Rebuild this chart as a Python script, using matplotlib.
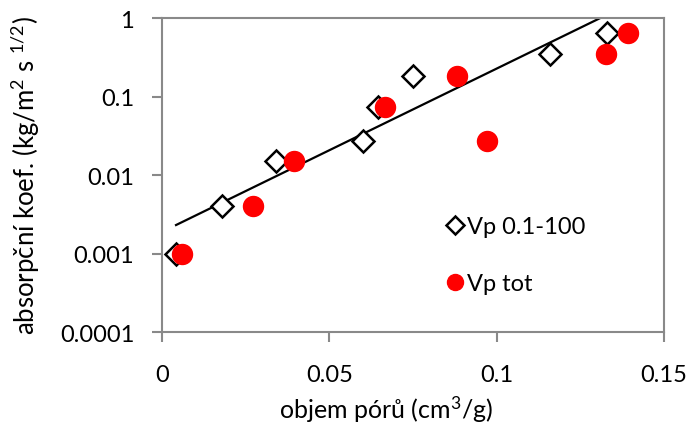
import numpy as np
import matplotlib
matplotlib.use('Agg')
import matplotlib.pyplot as plt
from matplotlib.ticker import FixedLocator, FixedFormatter, NullLocator

plt.rcParams['font.family'] = ['Lato', 'DejaVu Sans']
plt.rcParams['mathtext.fontset'] = 'custom'
plt.rcParams['mathtext.rm'] = 'Lato'
plt.rcParams['mathtext.it'] = 'Lato'

# data
x_vp = [0.0042, 0.0179, 0.034, 0.060, 0.0646, 0.075, 0.1159, 0.133]
y_vp = [0.001, 0.004, 0.015, 0.027, 0.074, 0.184, 0.35, 0.65]
x_tot = [0.0059, 0.0273, 0.0395, 0.0667, 0.088, 0.0971, 0.1328, 0.1393]
y_tot = [0.001, 0.004, 0.015, 0.074, 0.184, 0.0274, 0.35, 0.64]

yticks = [0.0001, 0.001, 0.01, 0.1, 1]
ylabels = ['0.0001', '0.001', '0.01', '0.1', '1']
xticks = [0, 0.05, 0.1, 0.15]
xlabels = ['0', '0.05', '0.1', '0.15']

# exponenciální trend (jako v Excelu) pro Vp 0.1-100
b, a = np.polyfit(x_vp, np.log10(y_vp), 1)
xt = np.linspace(min(x_vp), max(x_vp), 100)
yt = 10 ** (a + b * xt)

fig = plt.figure(figsize=(6.91, 4.27), dpi=100)
ax = fig.add_axes([0.2344, 0.2201, 0.7266, 0.7354])

ax.plot(xt, yt, color='black', lw=1.6, zorder=2)
ax.plot(x_vp, y_vp, 'D', ms=11, mfc='white', mec='black', mew=1.8,
        ls='none', label='Vp 0.1-100', zorder=3)
ax.plot(x_tot, y_tot, 'o', ms=14.4, color='#ff0000', ls='none',
        label='Vp tot', zorder=4)

ax.set_yscale('log')
ax.set_ylim(0.0001, 1)
ax.set_xlim(0, 0.15)
ax.yaxis.set_major_locator(FixedLocator(yticks))
ax.yaxis.set_major_formatter(FixedFormatter(ylabels))
ax.yaxis.set_minor_locator(NullLocator())
ax.set_xticks(xticks)
ax.set_xticklabels(xlabels)

for s in ax.spines.values():
    s.set_color('#898989')
    s.set_linewidth(1.5)
ax.tick_params(axis='both', which='major', direction='out', length=7,
               width=1.5, color='#898989', labelsize=17)
ax.tick_params(axis='y', pad=13)
ax.tick_params(axis='x', pad=16)

ax.set_xlabel('objem pórů (cm$^3$/g)', fontsize=18)
ax.xaxis.set_label_coords(0.446, -0.197)
ax.set_ylabel('absorpční koef. (kg/m$^2$ s $^{1/2}$)', fontsize=18.5, labelpad=13)

ax.legend(loc='center left', bbox_to_anchor=(0.518, 0.245), frameon=False,
          fontsize=17, handletextpad=0.0, labelspacing=1.5,
          handlelength=1.0, markerscale=0.8)

fig.savefig('out.png', dpi=100)
